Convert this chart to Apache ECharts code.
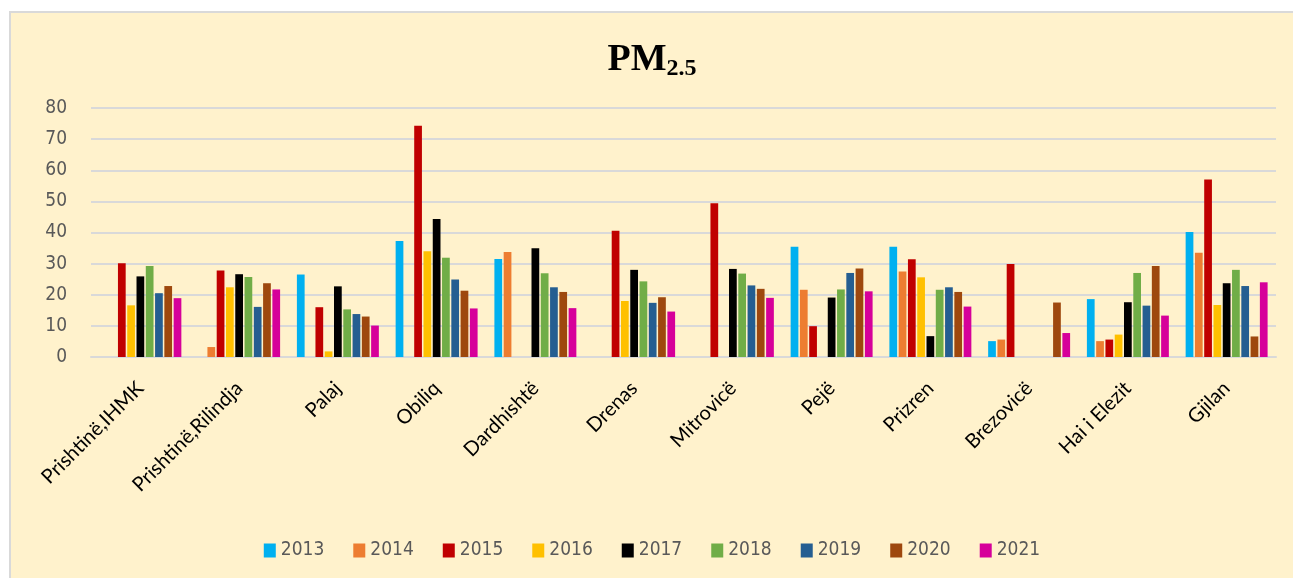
<!DOCTYPE html>
<html>
<head>
<meta charset="utf-8">
<script src="https://cdn.jsdelivr.net/npm/echarts@6/dist/echarts.min.js"></script>
<style>
	html, body { margin: 0; padding: 0; background: #fff; }
	#wrap {
		position: absolute; left: 9px; top: 11px;
		width: 1284px; height: 567px;
		border-top: 2px solid #d9d9d9; border-left: 2px solid #d9d9d9;
		background: #FFF2CC;
	}
	#chart { width: 1282px; height: 565px; }
</style>
</head>
<body>
<div id="wrap"><div id="chart"></div></div>
<script>
const stations = ['Prishtinë,IHMK', 'Prishtinë,Rilindja', 'Palaj', 'Obiliq', 'Dardhishtë', 'Drenas',
	'Mitrovicë', 'Pejë', 'Prizren', 'Brezovicë', 'Hai i Elezit', 'Gjilan']
const years = ['2013', '2014', '2015', '2016', '2017', '2018', '2019', '2020', '2021']

// one array per year, station order as above (null = no measurement)
const y2013 = [null, null, 26.5, 37.3, 31.5, null, null, 35.4, 35.4, 5.1, 18.6, 40.2]
const y2014 = [null, 3.2, null, null, 33.7, null, null, 21.6, 27.5, 5.6, 5.1, 33.5]
const y2015 = [30.1, 27.8, 16.0, 74.3, null, 40.6, 49.4, 9.9, 31.4, 29.9, 5.6, 57.0]
const y2016 = [16.6, 22.4, 1.8, 34.0, null, 18.0, null, null, 25.6, null, 7.2, 16.7]
const y2017 = [25.9, 26.6, 22.7, 44.3, 34.9, 28.0, 28.3, 19.1, 6.7, null, 17.6, 23.7]
const y2018 = [29.2, 25.7, 15.3, 31.9, 26.9, 24.3, 26.8, 21.7, 21.6, null, 27.0, 28.0]
const y2019 = [20.5, 16.1, 13.8, 24.9, 22.4, 17.4, 23.0, 27.0, 22.4, null, 16.5, 22.8]
const y2020 = [22.8, 23.7, 13.0, 21.3, 20.9, 19.2, 21.9, 28.4, 20.9, 17.5, 29.2, 6.6]
const y2021 = [18.9, 21.7, 10.1, 15.6, 15.7, 14.6, 19.0, 21.1, 16.2, 7.7, 13.3, 24.0]

const yearData = [y2013, y2014, y2015, y2016, y2017, y2018, y2019, y2020, y2021]
const colors = ['#00B0F0', '#ED7D31', '#C00000', '#FFC000', '#000000', '#70AD47', '#255E91', '#9E480E', '#D6009A']
const narrowFont = "'Liberation Sans Narrow', 'DejaVu Sans Condensed', Lato"

const chart = echarts.init(document.getElementById('chart'))

let series = years.map((y, i) => ({
	name: y,
	type: 'bar',
	data: yearData[i],
	itemStyle: { color: colors[i] },
	barGap: '20%',
	barCategoryGap: '17%'
}))

chart.setOption({
	animation: false,
	color: colors,
	title: {
		left: 'center',
		top: 21,
		text: '{a|PM}{b|2.5}',
		textStyle: {
			rich: {
				a: { fontFamily: 'Liberation Serif', fontWeight: 'bold', fontSize: 38, color: '#000', lineHeight: 42 },
				b: { fontFamily: 'Liberation Serif', fontWeight: 'bold', fontSize: 24, color: '#000', padding: [18, 0, 0, 0], lineHeight: 42 }
			}
		}
	},
	grid: {
		left: 80,
		right: 17,
		top: 95,
		bottom: 221,
		containLabel: false,
		outerBoundsMode: 'none'
	},
	legend: {
		data: years,
		bottom: 13,
		left: 'center',
		itemWidth: 12,
		itemHeight: 14,
		itemGap: 29,
		icon: 'rect',
		textStyle: { fontFamily: narrowFont, fontSize: 19, color: '#595959' }
	},
	xAxis: {
		type: 'category',
		data: stations,
		axisLine: { lineStyle: { color: '#d9d9d9', width: 2 } },
		axisTick: { show: false },
		axisLabel: {
			rotate: 45,
			interval: 0,
			margin: 28,
			fontFamily: 'Lato',
			fontSize: 20,
			color: '#000'
		}
	},
	yAxis: {
		type: 'value',
		min: 0,
		max: 80,
		interval: 10,
		axisLine: { show: false },
		axisTick: { show: false },
		splitLine: { lineStyle: { color: '#d9d9d9', width: 2 } },
		axisLabel: {
			margin: 24,
			fontFamily: narrowFont,
			fontSize: 19,
			color: '#595959'
		}
	},
	series: series
})
</script>
</body>
</html>
